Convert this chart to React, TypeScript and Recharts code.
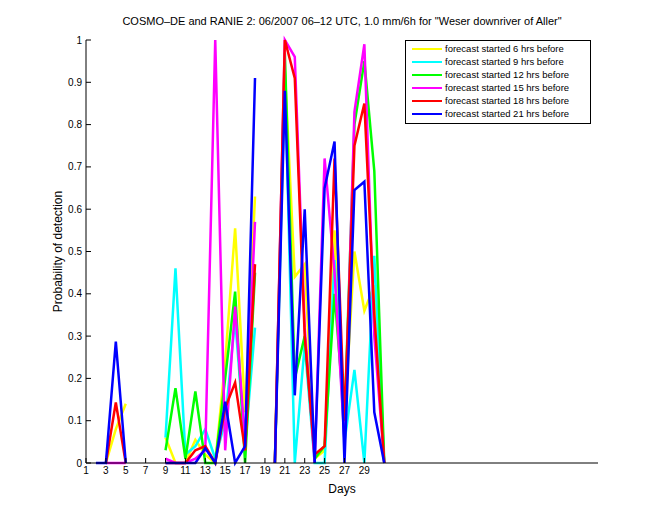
import React from 'react';
import { LineChart, Line, XAxis, YAxis } from 'recharts';

// one value per day (06-12 UTC window), days 2..31, null = no data
const days = [2, 3, 4, 5, 6, 7, 8, 9, 10, 11, 12, 13, 14, 15, 16, 17, 18, 19, 20, 21, 22, 23, 24, 25, 26, 27, 28, 29, 30, 31];

const fc6 = [null, 0, 0.08, 0.14, null, null, null, 0.06, 0, 0, 0.055, 0.02, 0, 0.24, 0.555, 0.12, 0.63, null, 0, 0.93, 0.44, 0.47, 0.01, 0.03, 0.55, 0.1, 0.5, 0.36, 0.42, 0];
const fc9 = [null, null, null, null, null, null, null, 0.06, 0.46, 0.02, 0.04, 0.08, 0.01, 0.1, 0.34, 0.04, 0.32, null, 0, 0.92, 0, 0.28, 0, 0, 0.48, 0.05, 0.22, 0, 0.49, 0];
const fc12 = [null, null, null, null, null, null, null, 0.03, 0.177, 0.01, 0.169, 0, 0, 0.2, 0.405, 0, 0.45, null, 0, 0.97, 0.2, 0.3, 0.01, 0.04, 0.4, 0.1, 0.8, 0.95, 0.69, 0];
const fc15 = [null, 0, 0, 0, null, null, null, 0.01, 0, 0, 0.01, 0.03, 1.0, 0.03, 0.37, 0.05, 0.57, null, 0, 1.0, 0.96, 0.32, 0, 0.72, 0.45, 0.05, 0.83, 0.99, 0.3, 0];
const fc18 = [null, 0, 0.143, 0, null, null, null, 0, 0, 0, 0.03, 0.04, 0, 0.13, 0.19, 0.03, 0.47, null, 0, 1.0, 0.91, 0.3, 0.02, 0.04, 0.72, 0.1, 0.75, 0.85, 0.35, 0];
const fc21 = [0, 0, 0.287, 0, null, null, null, 0, 0, 0, 0, 0.035, 0, 0.145, 0, 0.04, 0.91, null, 0, 0.88, 0.16, 0.6, 0, 0.65, 0.76, 0, 0.645, 0.665, 0.12, 0];

const xTicks = [1, 3, 5, 7, 9, 11, 13, 15, 17, 19, 21, 23, 25, 27, 29];
const yTicks = [0, 0.1, 0.2, 0.3, 0.4, 0.5, 0.6, 0.7, 0.8, 0.9, 1];

const series = [
  { key: 'fc6', name: 'forecast started 6 hrs before', color: '#ffff00', values: fc6 },
  { key: 'fc9', name: 'forecast started 9 hrs before', color: '#00ffff', values: fc9 },
  { key: 'fc12', name: 'forecast started 12 hrs before', color: '#00ff00', values: fc12 },
  { key: 'fc15', name: 'forecast started 15 hrs before', color: '#ff00ff', values: fc15 },
  { key: 'fc18', name: 'forecast started 18 hrs before', color: '#ff0000', values: fc18 },
  { key: 'fc21', name: 'forecast started 21 hrs before', color: '#0000ff', values: fc21 },
];

const data = days.map((d, i) => {
  const row: any = { day: d };
  series.forEach((s) => {
    row[s.key] = s.values[i];
  });
  return row;
});

const FONT = '"Liberation Sans", Arial, sans-serif';

const XTick = (props: any) => {
  const { x, y, payload } = props;
  return (
    <g>
      <line x1={x} y1={y} x2={x} y2={y - 5} stroke="#000" />
      <text x={x} y={y + 11} textAnchor="middle" fontSize={10} fontFamily={FONT} fill="#000">
        {payload.value}
      </text>
    </g>
  );
};

const YTick = (props: any) => {
  const { x, y, payload } = props;
  const v = payload.value;
  const label = v === 0 ? '0' : v === 1 ? '1' : v.toFixed(1);
  return (
    <g>
      <line x1={x} y1={y} x2={x + 5} y2={y} stroke="#000" />
      <text x={x - 4} y={y + 3.5} textAnchor="end" fontSize={10} fontFamily={FONT} fill="#000">
        {label}
      </text>
    </g>
  );
};

export default function App() {
  return (
    <div style={{ position: 'absolute', left: 0, top: 0, width: 660, height: 520, background: '#fff' }}>
      <div
        style={{
          position: 'absolute',
          left: 0,
          width: 684,
          top: 15,
          textAlign: 'center',
          fontFamily: FONT,
          fontSize: 11,
          whiteSpace: 'nowrap',
        }}
      >
        COSMO–DE and RANIE 2: 06/2007 06–12 UTC, 1.0 mm/6h for "Weser downriver of Aller"
      </div>
      <LineChart width={660} height={520} data={data} margin={{ top: 40, right: 62, bottom: 27, left: 46 }}>
        <XAxis
          dataKey="day"
          type="number"
          domain={[1, 52.5]}
          ticks={xTicks}
          tick={<XTick />}
          tickSize={0}
          tickMargin={0}
          tickLine={false}
          interval={0}
          allowDataOverflow
          stroke="#000"
          height={30}
          label={{ value: 'Days', position: 'insideBottom', offset: 0, fontSize: 12, fontFamily: FONT, fill: '#000' }}
        />
        <YAxis
          type="number"
          domain={[0, 1]}
          ticks={yTicks}
          tick={<YTick />}
          tickSize={0}
          tickMargin={0}
          tickLine={false}
          interval={0}
          stroke="#000"
          width={40}
          label={{
            value: 'Probability of detection',
            angle: -90,
            position: 'insideLeft',
            offset: 12,
            style: { textAnchor: 'middle' },
            fontSize: 12,
            fontFamily: FONT,
            fill: '#000',
          }}
        />
        {series.map((s) => (
          <Line
            key={s.key}
            dataKey={s.key}
            name={s.name}
            stroke={s.color}
            strokeWidth={2.5}
            dot={false}
            activeDot={false}
            isAnimationActive={false}
            type="linear"
            connectNulls={false}
          />
        ))}
      </LineChart>
      <div
        style={{
          position: 'absolute',
          left: 405,
          top: 40,
          border: '1px solid #000',
          background: '#fff',
          padding: '2px 6px 3px 6px',
          fontFamily: FONT,
          fontSize: 9.5,
          lineHeight: '12.9px',
          width: 172,
        }}
      >
        {series.map((s) => (
          <div key={s.key} style={{ display: 'flex', alignItems: 'center', whiteSpace: 'nowrap' }}>
            <span style={{ display: 'inline-block', width: 30, height: 2, background: s.color, marginRight: 3 }} />
            <span>{s.name}</span>
          </div>
        ))}
      </div>
    </div>
  );
}
